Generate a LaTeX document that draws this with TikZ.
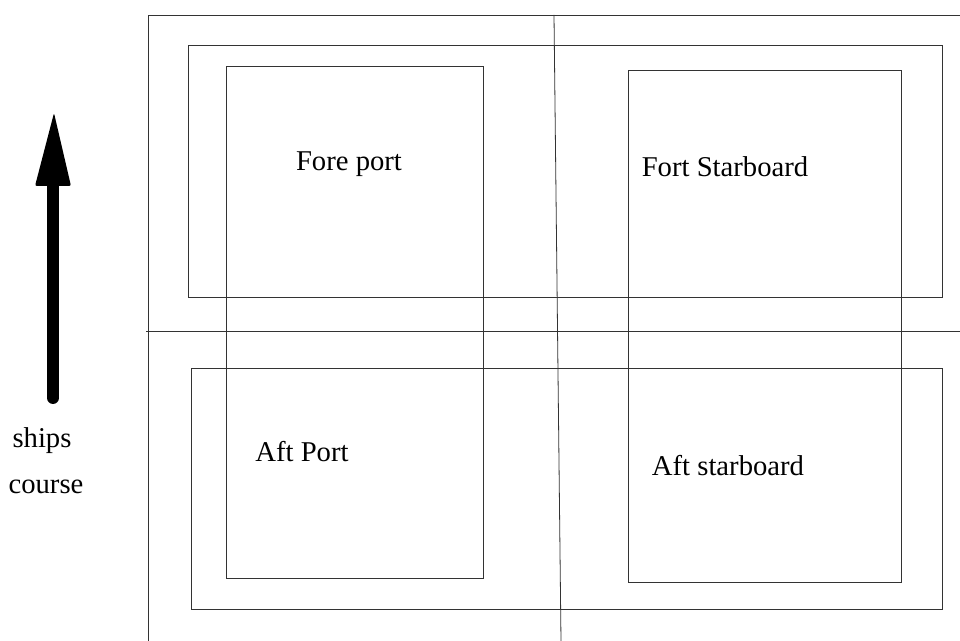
\documentclass[tikz,border=0pt]{standalone}
\usepackage{fontspec}
\setmainfont{Liberation Serif}
\begin{document}
\begin{tikzpicture}[x=0.75pt,y=-0.75pt,
  ln/.style={draw=black!80,line width=0.6pt},
  boxnode/.style={ln,rectangle,inner sep=0pt,anchor=north west},
  lbl/.style={font=\fontsize{21.5}{26}\selectfont,anchor=base,inner sep=0pt}]
\useasboundingbox (0,0) rectangle (960,641);
% frame lines
\coordinate (ftl) at (148,15);
\coordinate (ftr) at (960,15);
\coordinate (fbl) at (148,641);
\draw[ln] (fbl) -- (ftl) -- (ftr);
\coordinate (vt) at (554,15);
\coordinate (vb) at (561,641);
\draw[ln] (vt) -- (vb);
\coordinate (hl) at (146,331);
\coordinate (hr) at (960,331);
\draw[ln] (hl) -- (hr);
% wide boxes
\node[boxnode,minimum width=754*0.75pt,minimum height=252*0.75pt] (top) at (188,45) {};
\node[boxnode,minimum width=751*0.75pt,minimum height=241*0.75pt] (bot) at (191,368) {};
% tall boxes
\node[boxnode,minimum width=257*0.75pt,minimum height=512*0.75pt] (lft) at (226,66) {};
\node[boxnode,minimum width=273*0.75pt,minimum height=512*0.75pt] (rgt) at (628,70) {};
% labels
\node[lbl] (fp) at (349,171) {Fore port};
\node[lbl] (fs) at (725,177) {Fort Starboard};
\node[lbl] (ap) at (302,461) {Aft Port};
\node[lbl] (as) at (728,475) {Aft starboard};
\node[lbl] (sh) at (42,447) {ships};
\node[lbl] (co) at (46,493) {course};
% arrow
\coordinate (ab) at (53,398);
\coordinate (ah) at (53,184);
\draw[line width=9pt,line cap=round] (ab) -- (ah);
\fill[rounded corners=1.5pt] (35,186) -- (54,113) -- (71,186) -- cycle;
\end{tikzpicture}
\end{document}
